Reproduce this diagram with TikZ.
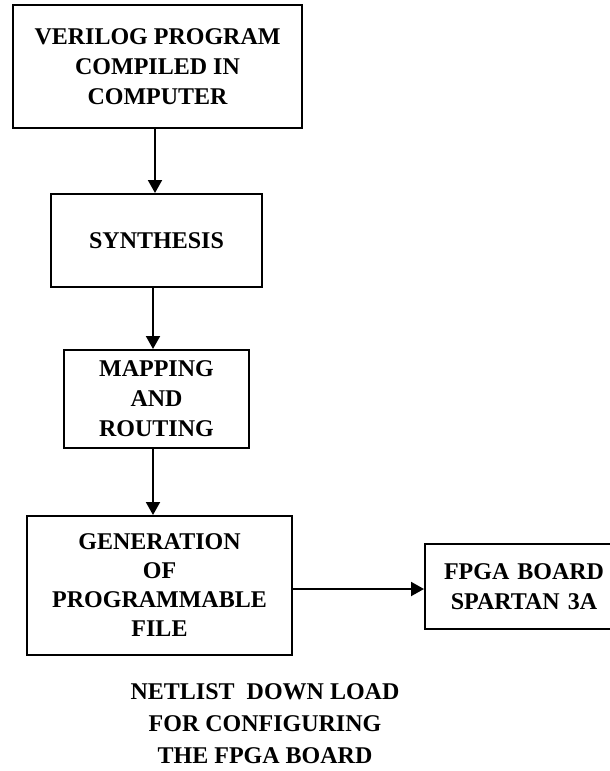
\documentclass[tikz,border=0pt]{standalone}
\usepackage{fontspec}
\setmainfont{Liberation Serif}
\usetikzlibrary{arrows.meta}
\tikzset{
  blk/.style={draw, line width=2pt, rectangle, inner sep=0pt, align=center,
    font=\bfseries\fontsize{24}{30}\selectfont},
  flow/.style={line width=2pt, -{Triangle[length=13pt,width=14pt]}},
  note/.style={align=center, inner sep=0pt, font=\bfseries\fontsize{24}{32}\selectfont}
}
\begin{document}
\begin{tikzpicture}[x=1pt,y=-1pt]
\useasboundingbox[fill=white] (0,0) rectangle (610,771);
\begin{scope}
\clip (0,0) rectangle (610,771);
\node[blk, minimum width=289pt, minimum height=123pt] (b1) at (157.5,66.5) {VERILOG PROGRAM\\COMPILED IN\\COMPUTER};
\node[blk, minimum width=211pt, minimum height=93pt] (b2) at (156.5,240.5) {SYNTHESIS};
\node[blk, minimum width=185pt, minimum height=98pt] (b3) at (156.5,399) {MAPPING\\AND\\ROUTING};
\node[blk, minimum width=265pt, minimum height=139pt, font=\bfseries\fontsize{24}{29}\selectfont] (b4) at (159.5,585.5) {GENERATION\\OF\\PROGRAMMABLE\\FILE};
\node[blk, minimum width=190pt, minimum height=85pt, text width=190pt] (b5) at (520,586.5) {\hspace*{8pt}FPGA BOARD\\\hspace*{8pt}SPARTAN 3A};
\node[note] (t) at (265,724) {NETLIST\ \ DOWN LOAD\\FOR CONFIGURING\\THE FPGA BOARD};
\coordinate (xa) at (155,0);
\coordinate (xb) at (153,0);
\coordinate (ya) at (0,589);
\draw[flow] (xa |- b1.south) -- (xa |- b2.north);
\draw[flow] (xb |- b2.south) -- (xb |- b3.north);
\draw[flow] (xb |- b3.south) -- (xb |- b4.north);
\draw[flow] (b4.east |- ya) -- (b5.west |- ya);
\end{scope}
\end{tikzpicture}
\end{document}
